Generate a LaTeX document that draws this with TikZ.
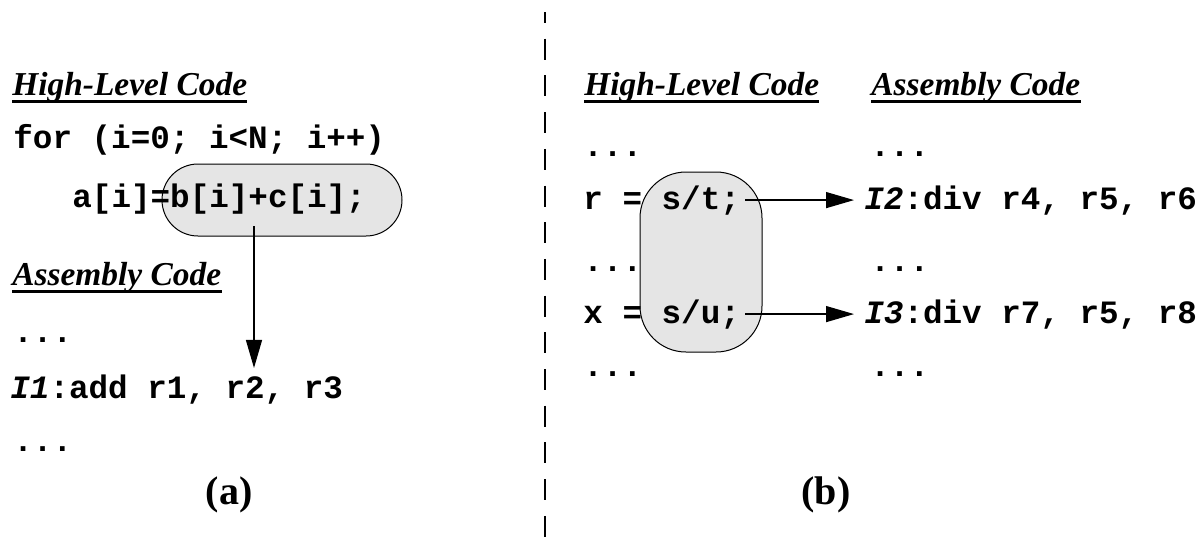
\documentclass[tikz,border=0pt]{standalone}
\usepackage{fontspec}
\newfontfamily\codefont{Liberation Mono}
\newfontfamily\headfont{Liberation Serif}
\usetikzlibrary{arrows.meta}

\begin{document}
\begin{tikzpicture}[x=0.5pt, y=-0.5pt, line join=round,
	>={Triangle[length=14pt,width=8pt]},
	code/.style={anchor=base west, inner sep=0pt,
		font=\codefont\bfseries\fontsize{16.3}{20}\selectfont},
	head/.style={anchor=base west, inner sep=0pt,
		font=\headfont\bfseries\itshape\fontsize{16.7}{20}\selectfont},
	caption/.style={font=\headfont\bfseries\fontsize{20}{24}\selectfont},
	blob/.style={draw, line width=0.5pt, fill=black!10, inner sep=0pt},
	link/.style={->, line width=0.65pt}]
	\def \xmax{1204}
	\def \ymax{537}
	\useasboundingbox (0,0) rectangle (\xmax,\ymax);
	% shaded statements
	\node[blob, rounded corners=18pt, minimum width=120pt, minimum height=36pt] (hiA) at (282,200) {};
	\node[blob, rounded corners=23pt, minimum width=61pt, minimum height=90pt] (hiB) at (701,262) {};
	% separator
	\draw[line width=1pt, dash pattern=on 10.5pt off 7.85pt, dash phase=5pt] (545,12) -- (545,\ymax);
	% (a)
	\node[head] (hlA) at (12,95) {High-Level Code};
	\node[code] (loop) at (13,148) {for (i=0; i<N; i++)};
	\node[code] (stmt) at (72,207) {a[i]=b[i]+c[i];};
	\node[head] (asmA) at (12,285) {Assembly Code};
	\node[code] (add) at (10,398) {\itshape I1\upshape:add r1, r2, r3};
	\node[caption] (capA) at (229,495) {(a)};
	% (b)
	\node[head] (hlB) at (584,95) {High-Level Code};
	\node[head] (asmB) at (871,95) {Assembly Code};
	\node[code] (divR) at (583,209) {r = s/t;};
	\node[code] (divX) at (583,323) {x = s/u;};
	\node[code] (i2) at (864,209) {\itshape I2\upshape:div r4, r5, r6};
	\node[code] (i3) at (864,323) {\itshape I3\upshape:div r7, r5, r8};
	\node[caption] (capB) at (826,495) {(b)};
	\foreach \x/\y [count=\i] in {13/342, 13/451, 583/156, 583/271, 583/376, 870/156, 870/271, 870/376}
		\node[code] (dots\i) at (\x,\y) {...};
	% underlines
	\foreach \n in {hlA, asmA, hlB, asmB}
		\draw[line width=1.5pt] ([yshift=-3pt]\n.base west) -- ([yshift=-3pt]\n.base east);
	% arrows
	\coordinate (aFrom) at (254,226);
	\draw[link, shorten >=3pt] (aFrom) -- (aFrom |- add.north);
	\draw[link, shorten <=2.5pt, shorten >=5pt] (divR.east) -- (divR.east -| i2.west);
	\draw[link, shorten <=2.5pt, shorten >=5pt] (divX.east) -- (divX.east -| i3.west);
\end{tikzpicture}
\end{document}
